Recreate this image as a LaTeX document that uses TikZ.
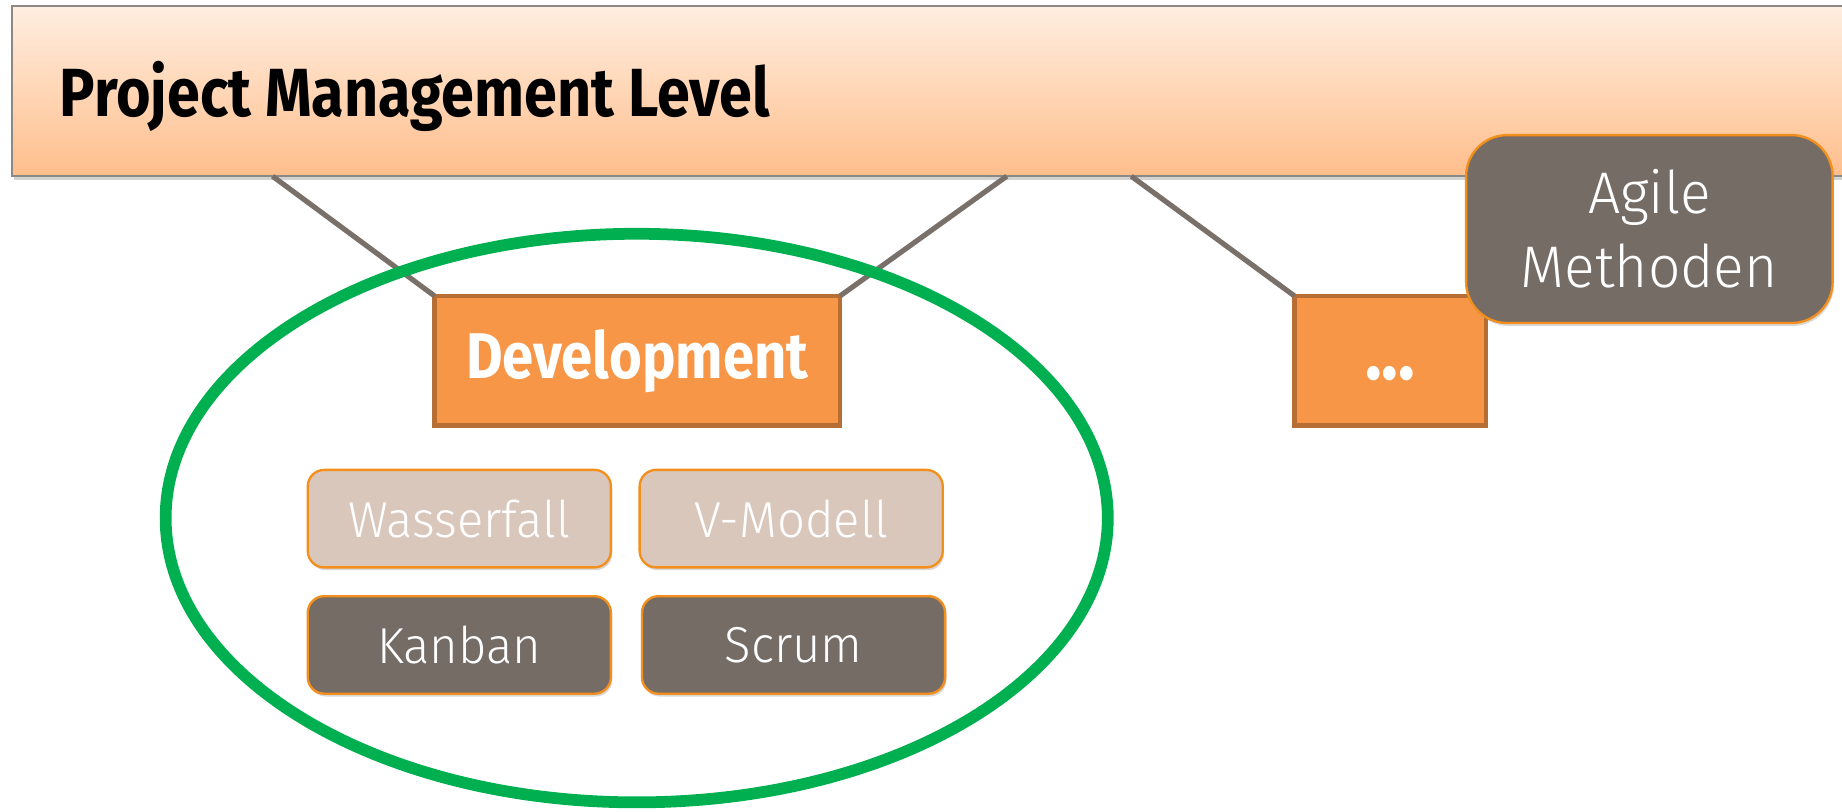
\documentclass[tikz,border=0pt]{standalone}
\usepackage{fontspec}
\setmainfont{Fira Sans}[FakeStretch=0.87]
\newfontfamily\lightfont{Fira Sans Light}[FakeStretch=0.97]
\usetikzlibrary{shadows}

\definecolor{bannertop}{RGB}{255,238,224}
\definecolor{bannerbot}{RGB}{255,190,140}
\definecolor{bannerline}{RGB}{140,136,132}
\definecolor{phasefill}{RGB}{247,150,70}
\definecolor{phaseline}{RGB}{182,110,52}
\definecolor{methodgray}{RGB}{118,108,102}
\definecolor{methodlight}{RGB}{218,199,188}
\definecolor{methodline}{RGB}{243,143,28}
\definecolor{linkgray}{RGB}{122,112,106}
\definecolor{ringgreen}{RGB}{0,176,80}

\tikzset{every picture/.style={line width=0.75pt},
  banner/.style={draw=bannerline, top color=bannertop, bottom color=bannerbot, inner sep=0pt, outer sep=0pt,
    drop shadow={opacity=0.35, shadow xshift=0.8pt, shadow yshift=-1.5pt}},
  phase/.style={draw=phaseline, line width=2pt, fill=phasefill, inner sep=0pt, outer sep=0pt,
    minimum height=55pt, text=white, font=\bfseries\fontsize{27.5}{27.5}\selectfont},
  method/.style={draw=methodline, line width=1pt, rounded corners=7pt, inner sep=0pt,
    minimum width=129pt, minimum height=41.5pt, text=white, font=\lightfont\fontsize{21.5}{21.5}\selectfont,
    drop shadow={opacity=0.3, shadow xshift=0.6pt, shadow yshift=-1.2pt}},
  oldmethod/.style={method, fill=methodlight},
  agilemethod/.style={method, fill=methodgray},
  link/.style={draw=linkgray, line width=2.2pt},
  ring/.style={draw=ringgreen, line width=5pt},
}

\begin{document}
\begin{tikzpicture}[x=0.5pt,y=0.5pt,yscale=-1,xscale=1]
\useasboundingbox (0,0) rectangle (1568,690.4);

%Shape: Banner
\node [banner, anchor=north west, minimum width=790pt, minimum height=72.5pt] (pm) at (10,5) {};
% Text Node
\node [anchor=base west, inner sep=0pt, font=\bfseries\fontsize{29}{29}\selectfont] (pmtext) at (50,99) {Project Management Level};

% free ends on the banner
\coordinate (pmA) at (232,150);
\coordinate (pmB) at (857,150);
\coordinate (pmC) at (963,150);

%Shape: Phases
\node [phase, minimum width=172.5pt] (dev) at (542.5,307) {Development};
\node [phase, minimum width=81.5pt, font=\bfseries\fontsize{34}{34}\selectfont] (dots) at (1183.5,307) {\vphantom{Dp}...};

%Straight Lines
\draw [link] (pmA) -- (dev.north west);
\draw [link] (pmB) -- (dev.north east);
\draw [link] (pmC) -- (dots.north west);

%Shape: Ellipse
\draw [ring] (542,441) ellipse [x radius=401, y radius=242];

%Shape: Methods
\node [oldmethod] (wasser) at (391,441.5) {Wasserfall};
\node [oldmethod] (vmodell) at (673.5,441.5) {V-Modell};
\node [agilemethod] (kanban) at (391,549) {Kanban};
\node [agilemethod] (scrum) at (675.5,549) {Scrum};

%Shape: Agile
\node [agilemethod, rounded corners=17.5pt, minimum width=156pt, minimum height=80pt, align=center,
  font=\lightfont\fontsize{25}{31.5}\selectfont] (agile) at (1404,195) {Agile\\Methoden};

\end{tikzpicture}
\end{document}
